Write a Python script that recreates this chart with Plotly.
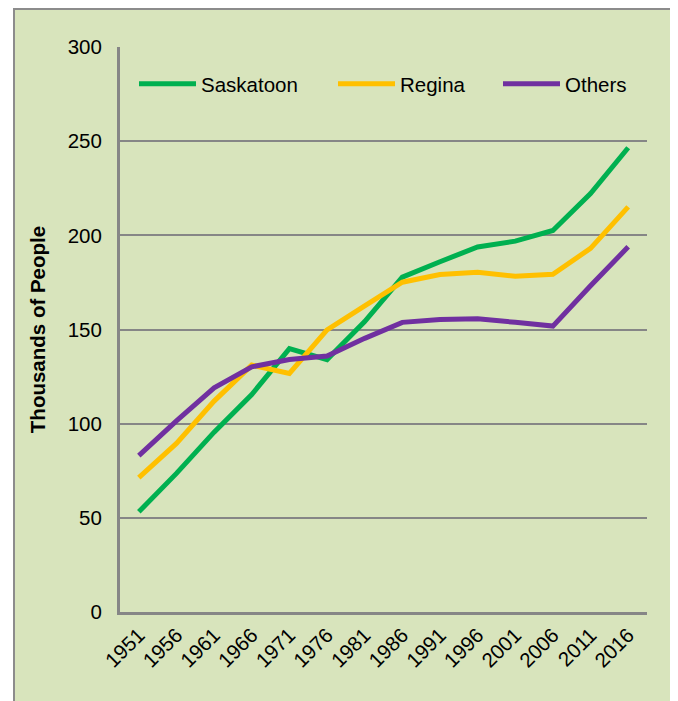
import plotly.graph_objects as go

years = ["1951", "1956", "1961", "1966", "1971", "1976", "1981", "1986",
         "1991", "1996", "2001", "2006", "2011", "2016"]
saskatoon = [53.2, 73.6, 95.5, 115.5, 139.8, 134.0, 154.2, 177.8,
             186.0, 193.8, 196.9, 202.6, 222.2, 246.5]
regina = [71.3, 89.5, 112.0, 131.1, 126.7, 149.8, 162.6, 175.1,
          179.2, 180.4, 178.3, 179.3, 193.1, 215.1]
others = [83.0, 101.5, 119.0, 130.2, 134.1, 135.9, 145.3, 153.8,
          155.3, 155.7, 153.8, 151.8, 173.2, 193.9]

series = [("Saskatoon", saskatoon, "#00B050"),
          ("Regina", regina, "#FFC000"),
          ("Others", others, "#7030A0")]

FONT = "Liberation Sans, Arial, sans-serif"
GRID = "#868686"
BG = "#D8E4BC"
FS = 20.5

# page body has an 8px margin; work in screen pixels and shift
OFF = 8
W, H = 678 - OFF, 701 - OFF
L, R, T, B = 120 - OFF, 31, 47 - OFF, 89
pw, ph = W - L - R, H - T - B

def px_x(x):
    return (x - OFF - L) / pw

def px_y(y):
    return (H - B - (y - OFF)) / ph

legend_starts = [134, 333, 498]

fig = go.Figure()
for i, (name, vals, col) in enumerate(series):
    fig.add_trace(go.Scatter(x=years, y=vals, name=name, mode="lines",
                             line=dict(color=col, width=5),
                             legend="legend" if i == 0 else f"legend{i+1}"))

fig.add_shape(type="rect", xref="paper", yref="paper",
              x0=px_x(14), x1=px_x(672), y0=px_y(720), y1=px_y(9),
              fillcolor=BG, line=dict(color="#8C8C8C", width=2), layer="below")

legends = {}
for i, xs in enumerate(legend_starts):
    key = "legend" if i == 0 else f"legend{i+1}"
    legends[key] = dict(orientation="h", x=px_x(xs), y=px_y(84),
                        xanchor="left", yanchor="middle",
                        bgcolor="rgba(0,0,0,0)", borderwidth=0,
                        font=dict(family=FONT, size=FS, color="#000000"),
                        itemwidth=57)

fig.update_layout(
    width=W, height=H,
    margin=dict(l=L, r=R, t=T, b=B),
    paper_bgcolor="white",
    plot_bgcolor="rgba(0,0,0,0)",
    font=dict(family=FONT, size=FS, color="#000000"),
    showlegend=True,
    xaxis=dict(type="category", range=[-0.5, len(years) - 0.5],
               showgrid=False, showline=True,
               linecolor=GRID, linewidth=3, ticks="", tickangle=-45,
               tickfont=dict(family=FONT, size=FS), zeroline=False),
    yaxis=dict(range=[0, 300], dtick=50, showgrid=True, gridcolor=GRID,
               gridwidth=2, showline=True, linecolor=GRID, linewidth=3,
               ticks="", ticklabelstandoff=11, zeroline=False,
               tickfont=dict(family=FONT, size=FS),
               title=dict(text="<b>Thousands of People</b>", standoff=17,
                          font=dict(family=FONT, size=FS))),
    **legends,
)

fig.write_html("out.html")
